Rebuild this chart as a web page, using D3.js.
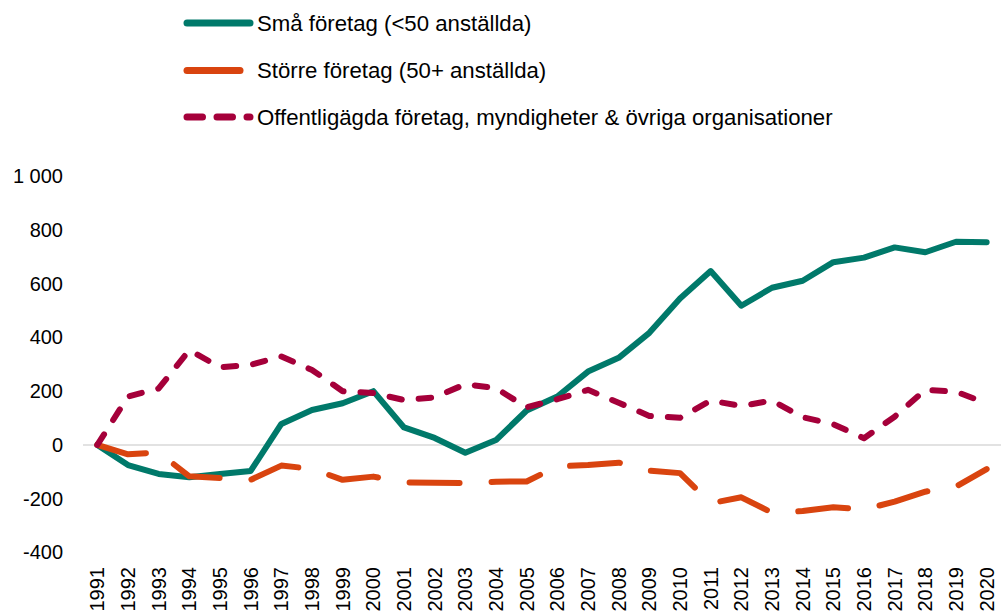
<!DOCTYPE html>
<html>
<head>
<meta charset="utf-8">
<script src="https://cdn.jsdelivr.net/npm/d3@7"></script>
<style>
  body { margin: 0; background: #fff; }
  text { font-family: "Liberation Sans", Arial, sans-serif; fill: #000; }
</style>
</head>
<body>
<div id="chart"></div>
<script>
const years = d3.range(1991, 2021)
const yTicks = [-400, -200, 0, 200, 400, 600, 800, 1000]

const small = [0, -75, -108, -120, -108, -97, 78, 130, 155, 200, 65, 26, -29, 18, 128, 180, 273, 324, 417, 545, 647, 518, 585, 611, 680, 697, 735, 717, 756, 754]
const large = [0, -35, -28, -117, -123, -130, -77, -89, -130, -118, -140, -141, -142, -137, -136, -80, -75, -66, -96, -105, -217, -195, -252, -246, -232, -240, -211, -174, -155, -90]
const publicOrg = [0, 180, 210, 353, 289, 298, 329, 279, 200, 193, 167, 177, 226, 211, 140, 170, 205, 157, 108, 101, 165, 145, 165, 103, 77, 25, 105, 205, 198, 155]

const seriesNames = [
  "Små företag (<50 anställda)",
  "Större företag (50+ anställda)",
  "Offentligägda företag, myndigheter & övriga organisationer"
]

const width = 1001, height = 614
const sw = 6
const series = [
  { name: seriesNames[0], values: small, color: "#00796A", dash: null },
  { name: seriesNames[1], values: large, color: "#D9440F", dash: `${56 - sw},${26 + sw}` },
  { name: seriesNames[2], values: publicOrg, color: "#A5003A", dash: `${18.5 - sw},${11 + sw}` }
]

const svg = d3.select("#chart").append("svg").attr("width", width).attr("height", height)

const x = d3.scalePoint().domain(years).range([82, 1002]).padding(0.5)
const y = d3.scaleLinear().domain([-400, 1000]).range([552.4, 176.2])

// zero line only
svg.append("line").attr("x1", 83).attr("x2", 1001).attr("y1", y(0)).attr("y2", y(0))
  .attr("stroke", "#d9d9d9").attr("stroke-width", 1.5)

const fmt = v => v >= 1000 ? d3.format(",")(v).replace(",", " ") : String(v)
svg.append("g").selectAll("text").data(yTicks).join("text")
  .attr("x", 63).attr("y", d => y(d)).attr("dy", "0.35em")
  .attr("text-anchor", "end").style("font-size", "20px")
  .text(d => fmt(d))

svg.append("g").selectAll("text").data(years).join("text")
  .attr("transform", d => `translate(${x(d)},567) rotate(-90)`)
  .attr("dy", "0.35em").attr("text-anchor", "end").style("font-size", "20px")
  .text(d => d)

const line = d3.line().x((d, i) => x(years[i])).y(d => y(d))
for (const s of series) {
  svg.append("path").attr("fill", "none").attr("stroke", s.color)
    .attr("stroke-width", sw).attr("stroke-linecap", "round").attr("stroke-linejoin", "round")
    .attr("stroke-dasharray", s.dash).attr("d", line(s.values))
}

// legend
const legY = [23, 70.5, 117]
const legEnd = [250, 240, 250]
const legendDash = [null, null, "15.5,14.5"]
series.forEach((s, i) => {
  svg.append("line").attr("x1", 187).attr("x2", legEnd[i]).attr("y1", legY[i]).attr("y2", legY[i])
    .attr("stroke", s.color).attr("stroke-width", 7).attr("stroke-linecap", "round")
    .attr("stroke-dasharray", legendDash[i])
  svg.append("text").attr("x", 257).attr("y", legY[i]).attr("dy", "0.35em")
    .style("font-size", "22.2px").text(s.name)
})
</script>
</body>
</html>
